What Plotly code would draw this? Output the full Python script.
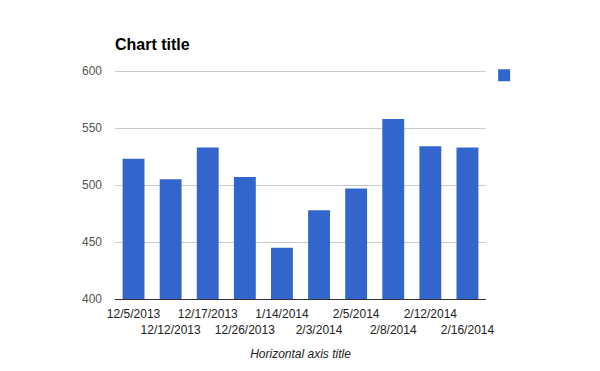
import plotly.graph_objects as go

categories = ["12/5/2013", "12/12/2013", "12/17/2013", "12/26/2013", "1/14/2014",
              "2/3/2014", "2/5/2014", "2/8/2014", "2/12/2014", "2/16/2014"]
values = [523, 505, 533, 507, 445, 478, 497, 558, 534, 533]
y_ticks = [400, 450, 500, 550, 600]

tick_text = [c if i % 2 == 0 else "<br>" + c for i, c in enumerate(categories)]

fig = go.Figure()
fig.add_trace(go.Bar(
    x=categories, y=values, name=" ",
    marker=dict(color="#3366cc", line=dict(width=0)),
    showlegend=True,
))

fig.update_layout(
    width=600, height=371,
    margin=dict(l=115, r=114, t=70, b=72, autoexpand=False),
    paper_bgcolor="white", plot_bgcolor="white",
    font=dict(family="Liberation Sans, Arial", size=12, color="#444444"),
    title=dict(text="<b>Chart title</b>", x=115/600, xref="container", xanchor="left",
               y=1 - 44/371, yref="container", yanchor="middle",
               font=dict(size=16, color="#000000", family="Liberation Sans, Arial")),
    bargap=0.41,
    showlegend=True,
    legend=dict(x=0.995, xanchor="left", y=1.04, yanchor="top",
                font=dict(size=11), bgcolor="rgba(0,0,0,0)"),
    xaxis=dict(
        tickmode="array", tickvals=categories, ticktext=tick_text,
        showgrid=False, showline=True, linecolor="#333333", linewidth=1,
        ticks="", tickangle=0, ticklabelstandoff=4, automargin=False,
        tickfont=dict(color="#222222", size=12),
        title=dict(text="<i>Horizontal axis title</i>", font=dict(size=12, color="#222222"),
                   standoff=13),
    ),
    yaxis=dict(
        range=[400, 601], tickvals=y_ticks, automargin=False,
        showgrid=True, gridcolor="#cccccc", gridwidth=1,
        tickfont=dict(color="#555555", size=12),
        zeroline=False, showline=False, ticks="", ticklabelstandoff=12,
    ),
)

fig.write_html("out.html", config={"displayModeBar": False},
               post_script="document.body.style.margin='0';")
